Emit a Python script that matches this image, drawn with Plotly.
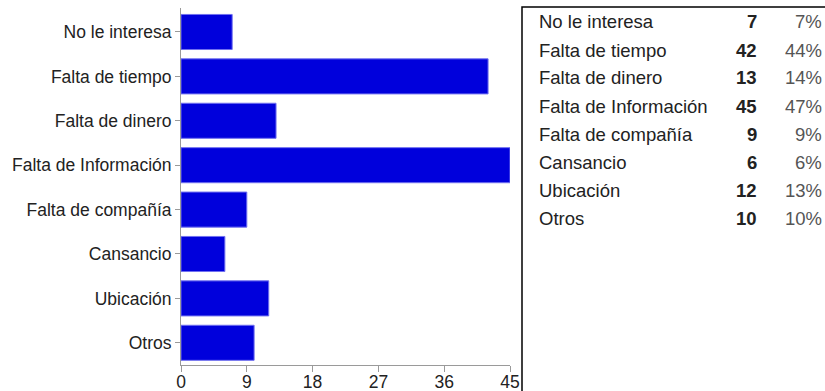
import plotly.graph_objects as go

categories = ["No le interesa", "Falta de tiempo", "Falta de dinero", "Falta de Información",
              "Falta de compañía", "Cansancio", "Ubicación", "Otros"]
counts = [7, 42, 13, 45, 9, 6, 12, 10]
percents = ["7%", "44%", "14%", "47%", "9%", "6%", "13%", "10%"]
x_ticks = [0, 9, 18, 27, 36, 45]

W, H = 825, 391
L, R, T, B = 181, 510, 8, 365  # plot area in pixels

fig = go.Figure(go.Bar(
    x=counts, y=categories, orientation="h",
    marker=dict(color="#0000DC", line=dict(color="#7070F0", width=1)),
    width=0.79,
))

fig.update_layout(
    width=W, height=H,
    margin=dict(l=L, r=W - R, t=T, b=H - B, pad=0),
    paper_bgcolor="white", plot_bgcolor="white",
    font=dict(family="Liberation Sans, Arial, sans-serif", size=17, color="#222222"),
    showlegend=False,
)
fig.update_xaxes(
    range=[0, 45], tickvals=x_ticks, showgrid=False, zeroline=False,
    showline=True, linecolor="#9a9a9a", linewidth=1,
    ticks="outside", ticklen=6, tickcolor="#9a9a9a", ticklabelstandoff=-5,
    tickfont=dict(size=17.5, color="#222222"), fixedrange=True, automargin=False,
)
fig.update_yaxes(
    range=[7.5, -0.54], showgrid=False, zeroline=False,
    showline=True, linecolor="#9a9a9a", linewidth=1,
    ticks="outside", ticklen=5, tickcolor="#9a9a9a",
    tickfont=dict(size=17.5, color="#222222"), fixedrange=True, automargin=False,
)

def px_x(p):
    return (p - L) / (R - L)

def px_y(p):
    return 1 - (p - T) / (B - T)

# summary table box on the right
fig.add_shape(type="rect", xref="paper", yref="paper",
              x0=px_x(522), x1=px_x(860), y0=px_y(430), y1=px_y(7),
              line=dict(color="black", width=1.5), fillcolor="white", layer="below")

row0, step = 22, 28
for i, (c, n, p) in enumerate(zip(categories, counts, percents)):
    yy = px_y(row0 + i * step)
    fig.add_annotation(x=px_x(537), y=yy, xref="paper", yref="paper", text=c,
                       xanchor="left", yanchor="middle", showarrow=False,
                       font=dict(size=18.5, color="#222222"))
    fig.add_annotation(x=px_x(759), y=yy, xref="paper", yref="paper", text=f"<b>{n}</b>",
                       xanchor="right", yanchor="middle", showarrow=False,
                       font=dict(size=18.5, color="#222222"))
    fig.add_annotation(x=px_x(824), y=yy, xref="paper", yref="paper", text=p,
                       xanchor="right", yanchor="middle", showarrow=False,
                       font=dict(size=18.5, color="#555555"))

fig.write_html("out.html", config={"displayModeBar": False})
